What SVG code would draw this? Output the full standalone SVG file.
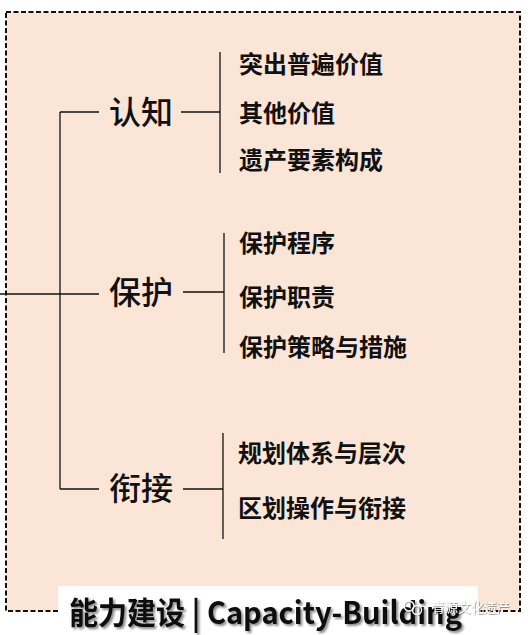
<svg xmlns="http://www.w3.org/2000/svg" width="528" height="635" viewBox="0 0 528 635">
  <defs>
    <style>
      .main { font-family: "Noto Sans CJK SC", "Liberation Sans", sans-serif; font-size: 32px; font-weight: 500; fill: #111; }
      .sub { font-family: "Noto Sans CJK SC", "Liberation Sans", sans-serif; font-size: 24px; font-weight: bold; fill: #111; }
      .ln { stroke: #111; stroke-width: 1.3; fill: none; }
      .title { font-family: "Noto Sans CJK SC", "Liberation Sans", sans-serif; font-size: 31px; font-weight: bold; fill: #111; }
      .wm { font-family: "Noto Sans CJK SC", sans-serif; font-size: 13px; fill: #ffffff; }
    </style>
    <filter id="shadow" x="-5%" y="-30%" width="110%" height="160%">
      <feDropShadow dx="2" dy="2" stdDeviation="1.2" flood-color="#000" flood-opacity="0.45"/>
    </filter>
    <filter id="wmshadow" x="-10%" y="-30%" width="120%" height="160%">
      <feDropShadow dx="0.6" dy="0.6" stdDeviation="0.6" flood-color="#000" flood-opacity="0.6"/>
    </filter>
  </defs>

  <rect x="0" y="0" width="528" height="635" fill="#ffffff"/>
  <rect id="frame" x="6" y="12" width="514" height="599" fill="#FBE5D6" stroke="#111" stroke-width="2" stroke-dasharray="5,2.5"/>

  <g id="connectors">
    <line class="ln" x1="0" y1="294" x2="99" y2="294"/>
    <line class="ln" x1="60" y1="112" x2="60" y2="489"/>
    <line class="ln" x1="60" y1="112" x2="99" y2="112"/>
    <line class="ln" x1="60" y1="489" x2="99" y2="489"/>
    <line class="ln" x1="181" y1="112" x2="220" y2="112"/>
    <line class="ln" x1="220" y1="52" x2="220" y2="173"/>
    <line class="ln" x1="183" y1="292" x2="224" y2="292"/>
    <line class="ln" x1="224" y1="233" x2="224" y2="353"/>
    <line class="ln" x1="183" y1="489" x2="223" y2="489"/>
    <line class="ln" x1="223" y1="433" x2="223" y2="539"/>
  </g>

  <g id="node-renzhi">
    <text class="main" x="109" y="124">认知</text>
  </g>
  <g id="node-renzhi-1"><text class="sub" x="239" y="73">突出普遍价值</text></g>
  <g id="node-renzhi-2"><text class="sub" x="239" y="122">其他价值</text></g>
  <g id="node-renzhi-3"><text class="sub" x="239" y="169">遗产要素构成</text></g>

  <g id="node-baohu">
    <text class="main" x="109" y="304">保护</text>
  </g>
  <g id="node-baohu-1"><text class="sub" x="239" y="252">保护程序</text></g>
  <g id="node-baohu-2"><text class="sub" x="239" y="306">保护职责</text></g>
  <g id="node-baohu-3"><text class="sub" x="239" y="356">保护策略与措施</text></g>

  <g id="node-xianjie">
    <text class="main" x="109" y="500">衔接</text>
  </g>
  <g id="node-xianjie-1"><text class="sub" x="238" y="462">规划体系与层次</text></g>
  <g id="node-xianjie-2"><text class="sub" x="238" y="517">区划操作与衔接</text></g>

  <g id="title">
    <rect x="58" y="586" width="420" height="49" fill="#ffffff"/>
    <text class="title" x="69" y="624" textLength="393" lengthAdjust="spacingAndGlyphs" filter="url(#shadow)">能力建设 | Capacity-Building</text>
  </g>

  <g id="watermark" filter="url(#wmshadow)">
    <circle cx="409" cy="606" r="5" fill="none" stroke="#fff" stroke-width="1.3"/>
    <circle cx="417" cy="610" r="4.5" fill="none" stroke="#fff" stroke-width="1.3"/>
    <text class="wm" x="432" y="612">青源文化遗产</text>
  </g>
</svg>
